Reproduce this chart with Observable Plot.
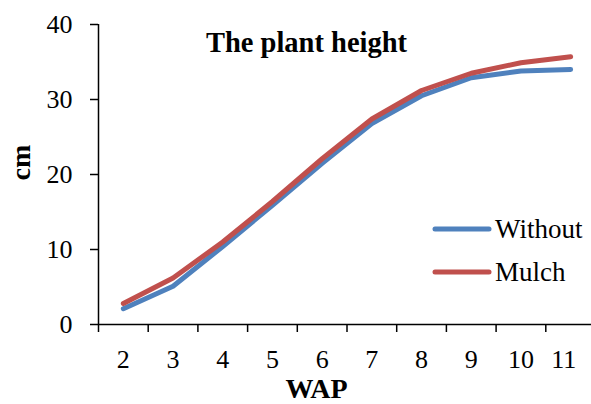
<!DOCTYPE html>
<html><head><meta charset="utf-8">
<script src="https://cdn.jsdelivr.net/npm/d3@7"></script>
<script src="https://cdn.jsdelivr.net/npm/@observablehq/plot@0.6"></script>
<style>
body{margin:0;background:#fff}
#wrap{position:relative;width:591px;height:404px;overflow:hidden;font-family:"Liberation Serif","Times New Roman",serif;color:#000}
.leg{position:absolute;display:flex;align-items:center;font-size:27px;line-height:1}
.leg svg{margin-right:2px}
</style>
</head><body><div id="wrap"></div>
<script>
const weeks = [2, 3, 4, 5, 6, 7, 8, 9, 10, 11];
const without = [2.1, 5.1, 10.4, 15.9, 21.5, 26.8, 30.5, 32.9, 33.8, 34.0];
const mulch = [2.8, 6.2, 11.0, 16.4, 22.1, 27.4, 31.2, 33.5, 34.9, 35.7];
const seriesNames = ["Without", "Mulch"];
const seriesColors = ["#4F81BD", "#C0504D"];
const yTicks = [0, 10, 20, 30, 40];
const titleText = "The plant height";
const xTitle = "WAP";
const yTitle = "cm";

const boundaries = weeks.map(w => w - 0.5);
const rows = weeks.flatMap((w, i) => [
  {week: w, value: without[i], series: seriesNames[0]},
  {week: w, value: mulch[i], series: seriesNames[1]}
]);
const lastWeek = weeks[weeks.length - 1];

const plot = Plot.plot({
  width: 591, height: 404,
  marginLeft: 98, marginRight: 0, marginTop: 24, marginBottom: 80,
  x: {domain: [weeks[0] - 0.5, lastWeek + 0.5], range: [98, 595], axis: null},
  y: {domain: [0, 40], range: [324, 24], axis: null},
  color: {domain: seriesNames, range: seriesColors},
  style: {fontFamily: '"Liberation Serif","Times New Roman",serif', background: "white", color: "black", overflow: "hidden"},
  marks: [
    Plot.axisY({ticks: yTicks, tickSize: 8, tickPadding: 18, fontSize: 26, strokeWidth: 1.5, anchor: "left", label: null}),
    Plot.axisX({ticks: boundaries, tickSize: 8, tickFormat: () => "", strokeWidth: 1.5, anchor: "bottom", label: null}),
    Plot.ruleX([weeks[0] - 0.5], {y1: 0, y2: 40, stroke: "black", strokeWidth: 1.5}),
    Plot.ruleY([0], {x1: weeks[0] - 0.5, x2: lastWeek + 0.5, stroke: "black", strokeWidth: 1.5}),
    Plot.text(weeks.filter(w => w !== lastWeek), {x: d => d, y: 0, dy: 35, text: d => String(d), fontSize: 26, lineAnchor: "middle"}),
    Plot.text([lastWeek], {x: d => d, y: 0, dy: 35, dx: -7, text: d => String(d), fontSize: 26, lineAnchor: "middle"}),
    Plot.line(rows, {x: "week", y: "value", z: "series", stroke: "series", strokeWidth: 5, strokeLinecap: "round", strokeLinejoin: "round"}),
    Plot.text([titleText], {frameAnchor: "top-left", dx: 208, dy: 18, text: d => d, fontSize: 28.5, fontWeight: "bold", textAnchor: "middle", lineAnchor: "middle"}),
    Plot.text([xTitle], {frameAnchor: "bottom-left", dx: 218, dy: 65, text: d => d, fontSize: 28, fontWeight: "bold", textAnchor: "middle", lineAnchor: "middle"}),
    Plot.text([yTitle], {frameAnchor: "left", dx: -77, dy: -12, text: d => d, fontSize: 28, fontWeight: "bold", textAnchor: "middle", lineAnchor: "middle", rotate: -90})
  ]
});
const wrap = document.getElementById("wrap");
wrap.appendChild(plot);

const legendTops = [229, 272];
seriesNames.forEach((name, i) => {
  const d = document.createElement("div");
  d.className = "leg";
  d.style.left = "431px";
  d.style.top = (legendTops[i] - 15) + "px";
  d.style.height = "30px";
  d.innerHTML = `<svg width="62" height="10"><line x1="4" y1="5" x2="58" y2="5" stroke="${seriesColors[i]}" stroke-width="5" stroke-linecap="round"/></svg><span>${name}</span>`;
  wrap.appendChild(d);
});
</script>
</body></html>
